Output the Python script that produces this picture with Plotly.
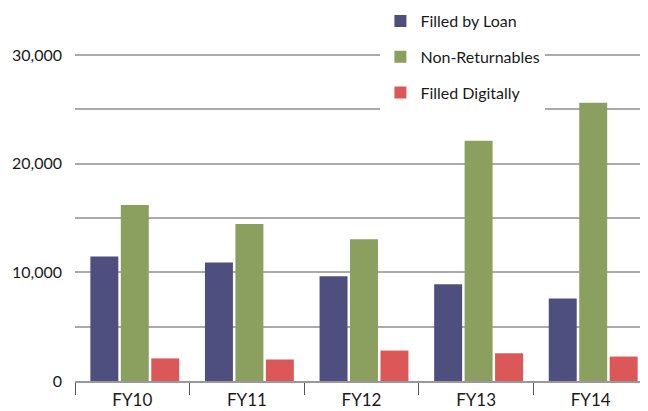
import plotly.graph_objects as go

categories = ["FY10", "FY11", "FY12", "FY13", "FY14"]
filled_by_loan = [11450, 10900, 9650, 8900, 7600]
non_returnables = [16200, 14450, 13050, 22100, 25600]
filled_digitally = [2080, 1980, 2800, 2550, 2250]

series_names = ["Filled by Loan", "Non-Returnables", "Filled Digitally"]
series_colors = ["#4e4f7e", "#8b9f5f", "#dc5757"]

y_tickvals = [0, 5000, 10000, 15000, 20000, 25000, 30000]
y_ticktext = ["0", "", "10,000", "", "20,000", "", "30,000"]

FONT = "Lato, 'Open Sans', sans-serif"

# bar geometry (fraction of a category)
BAR_W = 0.244
BAR_STEP = 0.2658
BAR_START = -0.366

fig = go.Figure()
for i, (name, vals, col) in enumerate(zip(series_names, [filled_by_loan, non_returnables, filled_digitally], series_colors)):
    fig.add_trace(go.Bar(x=categories, y=vals, name=name, marker=dict(color=col, line=dict(width=0)),
                         legendgroup=name, width=BAR_W, offset=BAR_START + i * BAR_STEP))

# page body adds an 8px offset, so the figure is drawn 8px smaller
fig.update_layout(
    width=640, height=403,
    margin=dict(l=67, r=0, t=2, b=30, autoexpand=False),
    paper_bgcolor="white", plot_bgcolor="white",
    barmode="group",
    font=dict(family=FONT, size=16, color="#1a1a1a"),
    legend=dict(x=0.533, xanchor="left", y=1.0162, yanchor="top",
                bgcolor="white", font=dict(family=FONT, size=16, color="#1a1a1a"),
                tracegroupgap=12, traceorder="grouped", entrywidth=160),
    showlegend=True,
)
fig.update_xaxes(
    automargin=False,
    showline=True, linecolor="#999999", linewidth=2,
    ticks="outside", tickson="boundaries", ticklen=12, tickcolor="#555555", tickwidth=1,
    showgrid=False, tickfont=dict(size=17), ticklabelstandoff=3,
)
fig.update_yaxes(
    automargin=False,
    range=[0, 34141], tickvals=y_tickvals, ticktext=y_ticktext,
    showgrid=True, gridcolor="#aaaaaa", gridwidth=1.5, zeroline=False,
    showline=False, ticks="", ticklabelstandoff=12, tickfont=dict(size=16),
)

fig.write_html("out.html")
